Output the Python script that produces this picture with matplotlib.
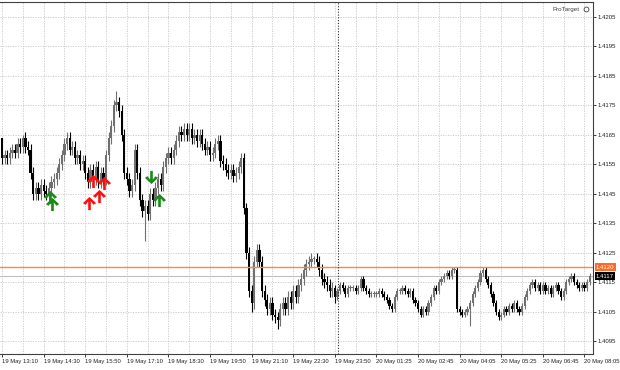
import matplotlib
matplotlib.use("Agg")
import matplotlib.pyplot as plt
import numpy as np
from matplotlib.path import Path

# M5 bars, 19 May 13:10 -> 20 May 08:10
first_open = 1.4164
closes = [
    1.4157, 1.4158, 1.4157, 1.4159, 1.4160, 1.4159, 1.4162, 1.4161, 1.4164, 1.4161,
    1.4160, 1.4152, 1.4145, 1.4147, 1.4145, 1.4148, 1.4146, 1.4145, 1.4147, 1.4149,
    1.4150, 1.4152, 1.4155, 1.4158, 1.4162, 1.4164, 1.4160, 1.4161, 1.4157, 1.4158,
    1.4155, 1.4156, 1.4152, 1.4149, 1.4153, 1.4150, 1.4154, 1.4149, 1.4152, 1.4150,
    1.4158, 1.4164, 1.4168, 1.4175, 1.4176, 1.4173, 1.4165, 1.4152, 1.4150, 1.4146,
    1.4148, 1.4160, 1.4152, 1.4143, 1.4139, 1.4141, 1.4138, 1.4145, 1.4143, 1.4147,
    1.4150, 1.4148, 1.4154, 1.4157, 1.4159, 1.4157, 1.4160, 1.4163, 1.4166, 1.4165,
    1.4167, 1.4165, 1.4167, 1.4164, 1.4165, 1.4163, 1.4165, 1.4162, 1.4160, 1.4161,
    1.4158, 1.4159, 1.4162, 1.4163, 1.4156, 1.4155, 1.4153, 1.4152, 1.4153, 1.4151,
    1.4152, 1.4154, 1.4157, 1.4140, 1.4125, 1.4112, 1.4108, 1.4122, 1.4126, 1.4122,
    1.4112, 1.4109, 1.4106, 1.4108, 1.4104, 1.4103, 1.4102, 1.4106, 1.4108, 1.4106,
    1.4110, 1.4108, 1.4112, 1.4110, 1.4114, 1.4116, 1.4119, 1.4121, 1.4122, 1.4123,
    1.4123, 1.4122, 1.4119, 1.4116, 1.4115, 1.4114, 1.4112, 1.4113, 1.4110, 1.4112,
    1.4114, 1.4113, 1.4111, 1.4113, 1.4113, 1.4113, 1.4112, 1.4113, 1.4116, 1.4113,
    1.4112, 1.4111, 1.4111, 1.4111, 1.4111, 1.4112, 1.4111, 1.4110, 1.4109, 1.4107,
    1.4106, 1.4110, 1.4112, 1.4112, 1.4113, 1.4112, 1.4111, 1.4112, 1.4109, 1.4108,
    1.4106, 1.4104, 1.4106, 1.4105, 1.4108, 1.4110, 1.4113, 1.4112, 1.4115, 1.4116,
    1.4117, 1.4118, 1.4117, 1.4119, 1.4119, 1.4106, 1.4105, 1.4104, 1.4105, 1.4106,
    1.4108, 1.4111, 1.4113, 1.4115, 1.4118, 1.4119, 1.4116, 1.4114, 1.4111, 1.4108,
    1.4105, 1.4103, 1.4104, 1.4106, 1.4105, 1.4107, 1.4106, 1.4108, 1.4106, 1.4105,
    1.4107, 1.4110, 1.4112, 1.4114, 1.4115, 1.4113, 1.4114, 1.4112, 1.4114, 1.4112,
    1.4113, 1.4111, 1.4113, 1.4114, 1.4112, 1.4110, 1.4112, 1.4115, 1.4116, 1.4117,
    1.4115, 1.4114, 1.4113, 1.4114, 1.4113, 1.4115, 1.4117,
]
# wick lengths in pips beyond the body (1 pip = 0.0001):
# busier session before the drop, quiet overnight after it
wick_up = [2] * 128 + [1] * (len(closes) - 128)
wick_dn = [2] * 128 + [1] * (len(closes) - 128)
for i, w in {0: 0, 8: 1, 25: 2, 44: 4, 70: 2, 93: 2, 98: 2, 120: 1, 185: 1, 219: 1}.items():
    wick_up[i] = w
for i, w in {55: 10, 96: 3, 106: 3, 128: 2, 180: 6}.items():
    wick_dn[i] = w

time_labels = ["19 May 13:10", "19 May 14:30", "19 May 15:50", "19 May 17:10", "19 May 18:30",
               "19 May 19:50", "19 May 21:10", "19 May 22:30", "19 May 23:50", "20 May 01:25",
               "20 May 02:45", "20 May 04:05", "20 May 05:25", "20 May 06:45", "20 May 08:05"]
price_ticks = [1.4095, 1.4105, 1.4115, 1.4125, 1.4135, 1.4145, 1.4155,
               1.4165, 1.4175, 1.4185, 1.4195, 1.4205]
level_price = 1.4120
bid_price = 1.4117

# signal arrows (bar index, price)
green_up = [(18.6, 1.41438), (19.1, 1.41416), (60.4, 1.41430)]
green_dn = [(57.3, 1.41507)]
red_up = [(33.5, 1.41418), (35.0, 1.41494), (37.3, 1.41444), (39.2, 1.41486)]

closes = np.array(closes)
opens = np.concatenate([[first_open], closes[:-1]])
highs = np.maximum(opens, closes) + np.array(wick_up) * 0.0001
lows = np.minimum(opens, closes) - np.array(wick_dn) * 0.0001
x = np.arange(len(closes))

# thick chevron arrow like the terminal's signal glyph
arrow_up = Path([(0, 1), (1, 0.05), (0.62, -0.2), (0.2, 0.3), (0.2, -1), (-0.2, -1),
                 (-0.2, 0.3), (-0.62, -0.2), (-1, 0.05), (0, 1)])
arrow_dn = Path([(vx, -vy) for vx, vy in arrow_up.vertices])

plt.rcParams['font.family'] = ['Liberation Sans', 'DejaVu Sans']
fig = plt.figure(figsize=(6.2, 3.7), dpi=100)
ax = fig.add_axes([0.0, 0.0432, 0.9565, 0.9514])

# grid
for k in range(0, 232, 8):
    ax.axvline(k, color='#c8c8c8', lw=0.6, ls=(0, (1.5, 1.5)), zorder=0)
for p in price_ticks:
    ax.axhline(p, color='#c8c8c8', lw=0.6, ls=(0, (1.5, 1.5)), zorder=0)

up = closes >= opens
colors = np.where(up, '#707070', '#000000')
ax.vlines(x, lows, highs, colors=colors, lw=0.8, zorder=2)
body_h = np.maximum(np.abs(closes - opens), 0.00003)
ax.bar(x, body_h, bottom=np.minimum(opens, closes), width=0.85,
       color=colors, linewidth=0, zorder=3)

# level and bid lines
ax.axhline(level_price, color='#f7894a', lw=1.0, zorder=4)
ax.axhline(bid_price, color='#c0c0c0', lw=0.8, zorder=1)
ax.axvline(129.4, color='#303030', lw=0.8, ls=(0, (1, 1.5)), zorder=4)

for pts, mk, col in [(green_up, arrow_up, '#1b8a1b'), (green_dn, arrow_dn, '#1b8a1b'),
                     (red_up, arrow_up, '#ff1010')]:
    ax.plot([p[0] for p in pts], [p[1] for p in pts], ls='none', marker=mk,
            ms=9.5, color=col, mec='none', zorder=5)

ax.set_xlim(-0.77, 227.3)
ax.set_ylim(1.40906, 1.42101)

ax.set_xticks(range(0, 16 * len(time_labels), 16))
ax.set_xticklabels(time_labels, ha='left', fontsize=4.2, color='#202020')
ax.yaxis.tick_right()
ax.set_yticks(price_ticks)
ax.set_yticklabels([f"{p:.4f}" for p in price_ticks], fontsize=4.3, color='#202020')
ax.tick_params(axis='both', length=2, width=0.6, pad=1.5, color='#202020')
for s in ax.spines.values():
    s.set_color('#404040')
    s.set_linewidth(0.8)
ax.spines['left'].set_visible(False)

# right-hand price tags
span = 1.42101 - 1.40906
ax.text(1.005, (level_price - 1.40906) / span, "1.4120", transform=ax.transAxes,
        fontsize=4.3, color='white', va='center', ha='left',
        bbox=dict(boxstyle='square,pad=0.25', fc='#ff6a28', ec='none'))
ax.text(1.005, (bid_price - 1.40906) / span, "1.4117", transform=ax.transAxes,
        fontsize=4.3, color='white', va='center', ha='left',
        bbox=dict(boxstyle='square,pad=0.25', fc='#000000', ec='none'))

ax.text(0.978, 0.98, "ProTarget", transform=ax.transAxes, fontsize=4.5,
        color='#404040', ha='right', va='center')
ax.plot([0.988], [0.98], transform=ax.transAxes, marker='o', ms=3.5,
        mfc='white', mec='#404040', mew=0.6)

fig.savefig("out.png", dpi=100)
